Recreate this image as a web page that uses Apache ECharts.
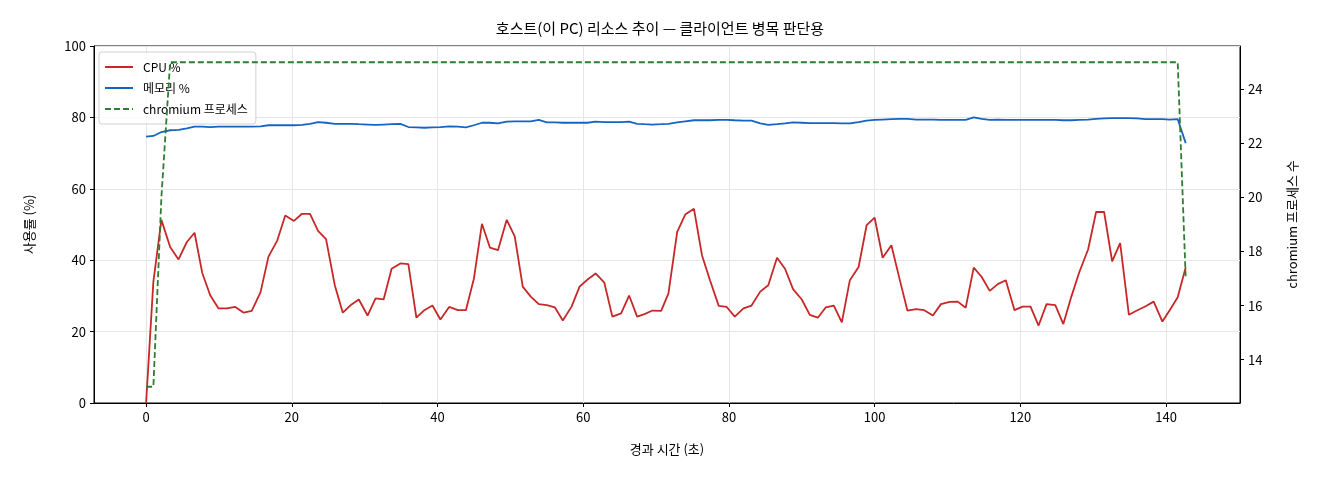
<!DOCTYPE html>
<html>
<head>
<meta charset="utf-8">
<script src="https://cdn.jsdelivr.net/npm/echarts@6/dist/echarts.min.js"></script>
<style>
  html, body { margin: 0; padding: 0; background: #fff; }
  #chart { width: 1320px; height: 480px; }
</style>
</head>
<body>
<div id="chart"></div>
<script>
// 경과 시간 (초) - 샘플 시각
var times = [0.0, 1.0, 2.1, 3.3, 4.45, 5.6, 6.65, 7.7, 8.8, 9.95,
    11.1, 12.25, 13.4, 14.5, 15.7, 16.8, 18.0, 19.1, 20.3, 21.4,
    22.5, 23.6, 24.7, 25.9, 27.0, 28.2, 29.2, 30.4, 31.5, 32.6,
    33.7, 34.9, 36.0, 37.1, 38.2, 39.3, 40.4, 41.6, 42.8, 43.9,
    45.0, 46.1, 47.2, 48.3, 49.5, 50.6, 51.7, 52.8, 53.9, 55.0,
    56.1, 57.2, 58.4, 59.5, 60.6, 61.7, 62.9, 64.0, 65.2, 66.3,
    67.4, 68.4, 69.5, 70.7, 71.7, 72.9, 74.0, 75.2, 76.3, 77.4,
    78.6, 79.7, 80.8, 82.0, 83.1, 84.3, 85.4, 86.6, 87.7, 88.8,
    90.0, 91.1, 92.2, 93.3, 94.4, 95.5, 96.6, 97.8, 98.9, 100.0,
    101.1, 102.3, 103.4, 104.5, 105.7, 106.8, 108.0, 109.1, 110.3, 111.4,
    112.5, 113.6, 114.7, 115.8, 116.9, 118.0, 119.2, 120.3, 121.4, 122.5,
    123.6, 124.8, 125.9, 127.0, 128.1, 129.3, 130.4, 131.5, 132.6, 133.7,
    134.9, 136.0, 137.2, 138.3, 139.5, 140.5, 141.6, 142.7];

// CPU 사용률
var cpuPct = [0, 34, 51.3, 43.7, 40.2, 45.1, 47.7, 36.5, 30.2, 26.5,
    26.5, 26.9, 25.3, 25.8, 31.0, 41.0, 45.5, 52.5, 51.0, 53.0,
    53.0, 48.2, 45.9, 33.0, 25.3, 27.6, 29.0, 24.5, 29.3, 29.0,
    37.6, 39.1, 38.9, 23.9, 26.0, 27.3, 23.4, 26.9, 26.0, 26.0,
    34.9, 50.2, 43.5, 42.8, 51.3, 46.7, 32.6, 29.8, 27.7, 27.4,
    26.8, 23.1, 27.0, 32.6, 34.6, 36.3, 33.7, 24.2, 25.1, 30.1,
    24.2, 24.9, 25.9, 25.8, 30.7, 47.9, 52.8, 54.4, 41.4, 34.4,
    27.2, 26.9, 24.2, 26.5, 27.3, 31.2, 33.0, 40.7, 37.6, 31.9,
    29.0, 24.7, 23.9, 26.8, 27.3, 22.6, 34.4, 38.1, 49.8, 51.9,
    40.7, 44.2, 34.9, 25.9, 26.3, 26.0, 24.5, 27.7, 28.3, 28.4,
    26.7, 37.9, 35.3, 31.4, 33.3, 34.4, 26.0, 27.0, 27.0, 21.7,
    27.7, 27.4, 22.1, 29.8, 36.7, 43.0, 53.5, 53.5, 39.7, 44.8,
    24.7, 25.9, 27.1, 28.4, 22.8, 26.0, 29.6, 38.0];

// 메모리 사용률
var memPct = [74.6, 74.8, 75.9, 76.4, 76.5, 76.9, 77.4, 77.4, 77.3, 77.4,
    77.4, 77.4, 77.4, 77.4, 77.5, 77.8, 77.8, 77.8, 77.8, 77.9,
    78.2, 78.7, 78.5, 78.2, 78.2, 78.2, 78.1, 78.0, 77.9, 78.0,
    78.1, 78.2, 77.3, 77.2, 77.1, 77.2, 77.3, 77.5, 77.4, 77.2,
    77.8, 78.5, 78.5, 78.3, 78.8, 78.9, 78.9, 78.9, 79.3, 78.6,
    78.6, 78.5, 78.5, 78.5, 78.5, 78.8, 78.7, 78.7, 78.7, 78.8,
    78.2, 78.1, 78.0, 78.1, 78.2, 78.6, 78.9, 79.2, 79.2, 79.2,
    79.3, 79.3, 79.2, 79.1, 79.1, 78.3, 77.9, 78.1, 78.3, 78.6,
    78.5, 78.4, 78.4, 78.4, 78.4, 78.3, 78.3, 78.7, 79.1, 79.3,
    79.4, 79.5, 79.6, 79.6, 79.4, 79.4, 79.4, 79.3, 79.3, 79.3,
    79.3, 80.0, 79.6, 79.3, 79.4, 79.3, 79.3, 79.3, 79.3, 79.3,
    79.3, 79.3, 79.2, 79.2, 79.3, 79.4, 79.6, 79.7, 79.8, 79.8,
    79.8, 79.7, 79.5, 79.5, 79.5, 79.4, 79.5, 72.8];

// chromium 프로세스 수
var chromiumCount = [13, 13, 20, 25, 25, 25, 25, 25, 25, 25,
    25, 25, 25, 25, 25, 25, 25, 25, 25, 25,
    25, 25, 25, 25, 25, 25, 25, 25, 25, 25,
    25, 25, 25, 25, 25, 25, 25, 25, 25, 25,
    25, 25, 25, 25, 25, 25, 25, 25, 25, 25,
    25, 25, 25, 25, 25, 25, 25, 25, 25, 25,
    25, 25, 25, 25, 25, 25, 25, 25, 25, 25,
    25, 25, 25, 25, 25, 25, 25, 25, 25, 25,
    25, 25, 25, 25, 25, 25, 25, 25, 25, 25,
    25, 25, 25, 25, 25, 25, 25, 25, 25, 25,
    25, 25, 25, 25, 25, 25, 25, 25, 25, 25,
    25, 25, 25, 25, 25, 25, 25, 25, 25, 25,
    25, 25, 25, 25, 25, 25, 25, 17];

var xTicks = [0, 20, 40, 60, 80, 100, 120, 140];
var yRightTicks = [14, 16, 18, 20, 22, 24];

var FONT = '"Noto Sans CJK KR", "Noto Sans", sans-serif';

// 범례 아이콘 (선 / 점선)
var ICON_SOLID = 'path://M0,0h28v2h-28z';
var ICON_DASH = 'path://M0,0h6v2h-6z M9,0h6v2h-6z M18,0h6v2h-6z M27,0h1v2h-1z';

function pairs(vals) {
    var out = [];
    for (var i = 0; i < times.length; i++) {
        out.push([times[i], vals[i]]);
    }
    return out;
}

var chart = echarts.init(document.getElementById('chart'), null, { renderer: 'canvas' });

var option = {
    backgroundColor: '#fff',
    animation: false,
    textStyle: { fontFamily: FONT, color: '#000' },
    title: {
        text: '호스트(이 PC) 리소스 추이 — 클라이언트 병목 판단용',
        left: 'center',
        top: 16,
        textStyle: { fontFamily: FONT, fontSize: 15, fontWeight: 'normal', color: '#000' }
    },
    legend: {
        orient: 'vertical',
        left: 99,
        top: 52,
        padding: [8, 8, 8, 5],
        itemGap: 7,
        itemWidth: 28,
        itemHeight: 2,
        backgroundColor: 'rgba(255,255,255,0.8)',
        borderColor: '#d0d0d0',
        borderWidth: 1,
        borderRadius: 3,
        textStyle: { fontFamily: FONT, fontSize: 12, color: '#000', lineHeight: 14, padding: [0, 0, 0, 5] },
        data: ['CPU %', '메모리 %', 'chromium 프로세스']
    },
    grid: {
        left: 94,
        right: 80,
        top: 46,
        bottom: 77,
        show: true,
        borderColor: '#000',
        borderWidth: 1,
        backgroundColor: 'transparent'
    },
    xAxis: {
        type: 'value',
        min: -7.15,
        max: 150.15,
        name: '경과 시간 (초)',
        nameLocation: 'middle',
        nameGap: 40,
        nameTextStyle: { fontFamily: FONT, fontSize: 13, color: '#000' },
        axisLine: { show: true, onZero: false, lineStyle: { color: '#000', width: 1 } },
        axisTick: { show: true, length: 4, customValues: xTicks, lineStyle: { color: '#000' } },
        axisLabel: { customValues: xTicks, fontFamily: FONT, fontSize: 13, color: '#000', margin: 8 },
        splitLine: { show: true, lineStyle: { color: '#e6e6e6', width: 1 } }
    },
    yAxis: [{
        type: 'value',
        min: 0,
        max: 100,
        interval: 20,
        name: '사용률 (%)',
        nameLocation: 'middle',
        nameRotate: 90,
        nameGap: 58,
        nameTextStyle: { fontFamily: FONT, fontSize: 13, color: '#000' },
        axisLine: { show: true, onZero: false, lineStyle: { color: '#000', width: 1 } },
        axisTick: { show: true, length: 4, lineStyle: { color: '#000' } },
        axisLabel: { fontFamily: FONT, fontSize: 13, color: '#000', margin: 8 },
        splitLine: { show: true, lineStyle: { color: '#e6e6e6', width: 1 } }
    }, {
        type: 'value',
        position: 'right',
        min: 12.4,
        max: 25.6,
        name: 'chromium 프로세스 수',
        nameLocation: 'middle',
        nameRotate: 90,
        nameGap: 46,
        nameTextStyle: { fontFamily: FONT, fontSize: 13, color: '#000' },
        axisLine: { show: true, onZero: false, lineStyle: { color: '#000', width: 1 } },
        axisTick: { show: true, length: 4, customValues: yRightTicks, lineStyle: { color: '#000' } },
        axisLabel: { customValues: yRightTicks, fontFamily: FONT, fontSize: 13, color: '#000', margin: 8 },
        splitLine: { show: false }
    }],
    series: [{
        name: 'CPU %',
        type: 'line',
        yAxisIndex: 0,
        showSymbol: false,
        symbol: 'none',
        legendIcon: ICON_SOLID,
        color: '#c62828',
        lineStyle: { color: '#c62828', width: 1.8 },
        data: pairs(cpuPct),
        z: 3
    }, {
        name: '메모리 %',
        type: 'line',
        yAxisIndex: 0,
        showSymbol: false,
        symbol: 'none',
        legendIcon: ICON_SOLID,
        color: '#1565c0',
        lineStyle: { color: '#1565c0', width: 1.8 },
        data: pairs(memPct),
        z: 3
    }, {
        name: 'chromium 프로세스',
        type: 'line',
        yAxisIndex: 1,
        showSymbol: false,
        symbol: 'none',
        legendIcon: ICON_DASH,
        color: '#2e7d32',
        lineStyle: { color: '#2e7d32', width: 1.8, type: [6, 3] },
        data: pairs(chromiumCount),
        z: 4
    }]
};

chart.setOption(option);
</script>
</body>
</html>
